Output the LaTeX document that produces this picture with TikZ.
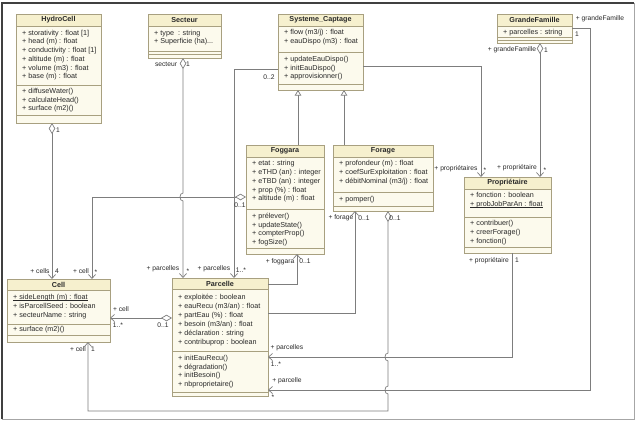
\documentclass[tikz,border=0pt]{standalone}
\usepackage{fontspec}
\setmainfont{Liberation Sans}
\usetikzlibrary{arrows.meta}
\definecolor{cbord}{RGB}{168,160,128}
\definecolor{chead}{RGB}{246,240,206}
\definecolor{cbody}{RGB}{252,250,237}
\definecolor{cline}{RGB}{125,125,125}
\definecolor{ctext}{RGB}{40,40,40}
\newcommand\ulin[1]{\setbox0\hbox{#1}\rlap{\rule[-0.9pt]{\wd0}{0.45pt}}\box0}
\tikzset{
  clsframe/.style={draw=cbord, line width=0.6pt, inner sep=0pt, outer sep=0pt},
  clstitle/.style={font=\fontsize{7.2}{8}\selectfont\bfseries, inner sep=0pt, text=ctext},
  clstext/.style={font=\fontsize{7.2}{8.7}\selectfont, align=left, inner sep=0pt, text=ctext, anchor=north west},
  lbl/.style={font=\fontsize{6.7}{7}\selectfont, inner sep=0pt, text=ctext},
  assoc/.style={draw=cline, line width=0.7pt},
  dnav/.style={{Diamond[open,fill=white,length=11pt,width=6.5pt]}-{Straight Barb[length=4pt,width=7pt]}},
  pnav/.style={-{Straight Barb[length=4pt,width=7pt]}},
  gen/.style={-{Triangle[open,fill=white,length=5.5pt,width=6.5pt]}}
}
\newcommand\umlbox[9]{%
  \fill[cbody] (#2,#3) rectangle (#4,#5);
  \fill[chead] (#2,#3) rectangle (#4,#7);
  \draw[cbord,line width=0.6pt] (#2,#7) -- (#4,#7) (#2,#8) -- (#4,#8) (#2,#9) -- (#4,#9);
  \node[clsframe, minimum width={(#4-#2)*1pt}, minimum height={(#5-#3)*1pt}, anchor=north west] (#1) at (#2,#3) {};
  \node[clstitle] (#1-t) at ({(#2+#4)/2},{(#3+#7)/2}) {#6};
}
\begin{document}
\begin{tikzpicture}[x=1pt,y=-1pt]
\useasboundingbox (0,0) rectangle (638,421);
\fill[white] (0,0) rectangle (638,421);
\draw[black!35, line width=0.8pt] (634,3) -- (634,419) -- (2,419);
\draw[black!75, line width=1.3pt] (2,419) -- (2,3) -- (634,3);

% classes
\umlbox{hydro}{16}{14}{101}{123}{HydroCell}{26}{85}{115}
\node[clstext] (hydro-a) at (22,29.8) {+ storativity : float [1]\\+ head (m) : float\\+ conductivity : float [1]\\+ altitude (m) : float\\+ volume (m3) : float\\+ base (m) : float};
\node[clstext] (hydro-m) at (22,88) {+ diffuseWater()\\+ calculateHead()\\+ surface (m2)()};

\umlbox{sect}{148}{14}{221}{58}{Secteur}{26}{51}{54}
\node[clstext] (sect-a) at (154,29.8) {+ type\ \ : string\\+ Superficie (ha)...};

\umlbox{sys}{278}{14}{363}{90}{Systeme\_Captage}{26}{52}{84}
\node[clstext] (sys-a) at (284,29.3) {+ flow (m3/j) : float\\+ eauDispo (m3) : float};
\node[clstext] (sys-m) at (284,56) {+ updateEauDispo()\\+ initEauDispo()\\+ approvisionner()};

\umlbox{gf}{497}{14}{572}{43}{GrandeFamille}{26}{37}{40}
\node[clstext] (gf-a) at (503,29) {+ parcelles : string};

\umlbox{fog}{246}{145}{324}{254}{Foggara}{157}{209}{248}
\node[clstext] (fog-a) at (252,160.5) {+ etat : string\\+ eTHD (an) : integer\\+ eTBD (an) : integer\\+ prop (\%) : float\\+ altitude (m) : float};
\node[clstext] (fog-m) at (252,212.8) {+ prélever()\\+ updateState()\\+ compterProp()\\+ fogSize()};

\umlbox{forage}{333}{145}{433}{211}{Forage}{157}{192}{206}
\node[clstext] (forage-a) at (339,160.5) {+ profondeur (m) : float\\+ coefSurExploitation : float\\+ débitNominal (m3/j) : float};
\node[clstext] (forage-m) at (339,196) {+ pomper()};

\umlbox{prop}{464}{177}{551}{253}{Propriétaire}{189}{217}{247}
\node[clstext] (prop-a) at (470,192.5) {+ fonction : boolean\\\ulin{+ probJobParAn : float}};
\node[clstext] (prop-m) at (470,220.5) {+ contribuer()\\+ creerForage()\\+ fonction()};

\umlbox{cell}{7}{279}{110}{342}{Cell}{290}{324}{335}
\node[clstext] (cell-a) at (13,294.5) {\ulin{+ sideLength (m) : float}\\+ isParcellSeed : boolean\\+ secteurName : string};
\node[clstext] (cell-m) at (13,326.5) {+ surface (m2)()};

\umlbox{parc}{172}{278}{268}{396}{Parcelle}{289}{351}{392}
\node[clstext,font=\fontsize{7.2}{8.95}\selectfont] (parc-a) at (178,293.8) {+ exploitée : boolean\\+ eauRecu (m3/an) : float\\+ partEau (\%) : float\\+ besoin (m3/an) : float\\+ déclaration : string\\+ contribuprop : boolean};
\node[clstext] (parc-m) at (178,355) {+ initEauRecu()\\+ dégradation()\\+ initBesoin()\\+ nbproprietaire()};

% connectors
\draw[assoc,dnav] (hydro.south -| 52,0) -- (cell.north -| 52,0);
\draw[assoc,dnav] (sect.south -| 183,0) -- (183,193) .. controls (179,193) and (179,201) .. (183,201) -- (parc.north -| 183,0);
\draw[assoc,dnav] (fog.west |- 0,197) -| (cell.north -| 92,0);
\draw[assoc,pnav] (sys.west |- 0,69) -| (parc.north -| 234,0);
\draw[assoc,gen] (fog.north -| 298,0) -- (sys.south -| 298,0);
\draw[assoc,gen] (forage.north -| 344,0) -- (sys.south -| 344,0);
\draw[assoc,pnav] (sys.east |- 0,66) -| (prop.north -| 481,0);
\draw[assoc,dnav] (gf.south -| 540,0) -- (prop.north -| 540,0);
\draw[assoc,pnav] (gf.east |- 0,28) -| (590,390) -- (parc.east |- 0,390);
\draw[assoc,pnav] (prop.south -| 512,0) |- (parc.east |- 0,357);
\draw[assoc,dnav] (forage.south -| 388,0) -- (388,353) .. controls (384,353) and (384,361) .. (388,361) -- (388,386) .. controls (384,386) and (384,394) .. (388,394) -- (388,411) -| (cell.south -| 88,0);
\draw[assoc,pnav] (parc.east |- 0,313) -| (forage.south -| 355,0);
\draw[assoc,pnav] (parc.east |- 0,284) -| (fog.south -| 297,0);
\draw[assoc,dnav] (parc.west |- 0,318) -- (cell.east |- 0,318);

% labels
\node[lbl] (l1) at (58,130) {1};
\node[lbl] (l2) at (166,64) {secteur};
\node[lbl] (l3) at (188,64) {1};
\node[lbl] (l4) at (269,77) {0..2};
\node[lbl] (l5) at (456,169) {+ propriétaires};
\node[lbl] (l6) at (485,170) {*};
\node[lbl] (l7) at (517,168) {+ propriétaire};
\node[lbl] (l8) at (545,170) {*};
\node[lbl] (l9) at (512,50) {+ grandeFamille};
\node[lbl] (l10) at (546,50) {1};
\node[lbl] (l11) at (600,19) {+ grandeFamille};
\node[lbl] (l12) at (577,34) {1};
\node[lbl] (l13) at (489,261) {+ propriétaire};
\node[lbl] (l14) at (517,260) {1};
\node[lbl] (l15) at (341,218) {+ forage};
\node[lbl] (l16) at (364,218) {0..1};
\node[lbl] (l17) at (395,218) {0..1};
\node[lbl] (l18) at (280,262) {+ foggara};
\node[lbl] (l19) at (305,261) {0..1};
\node[lbl] (l20) at (240,205) {0..1};
\node[lbl] (l21) at (163,269) {+ parcelles};
\node[lbl] (l22) at (188,271) {*};
\node[lbl] (l23) at (214,269) {+ parcelles};
\node[lbl] (l24) at (241,270) {1..*};
\node[lbl] (l25) at (40,271) {+ cells};
\node[lbl] (l26) at (57,271) {4};
\node[lbl] (l27) at (81,271) {+ cell};
\node[lbl] (l28) at (96,272) {*};
\node[lbl] (l29) at (121,309) {+ cell};
\node[lbl] (l30) at (118,325) {1..*};
\node[lbl] (l31) at (163,325) {0..1};
\node[lbl] (l32) at (78,349) {+ cell};
\node[lbl] (l33) at (93,349) {1};
\node[lbl] (l34) at (287,348) {+ parcelles};
\node[lbl] (l35) at (276,364) {1..*};
\node[lbl] (l36) at (287,381) {+ parcelle};
\node[lbl] (l37) at (273,397) {*};
\end{tikzpicture}
\end{document}
